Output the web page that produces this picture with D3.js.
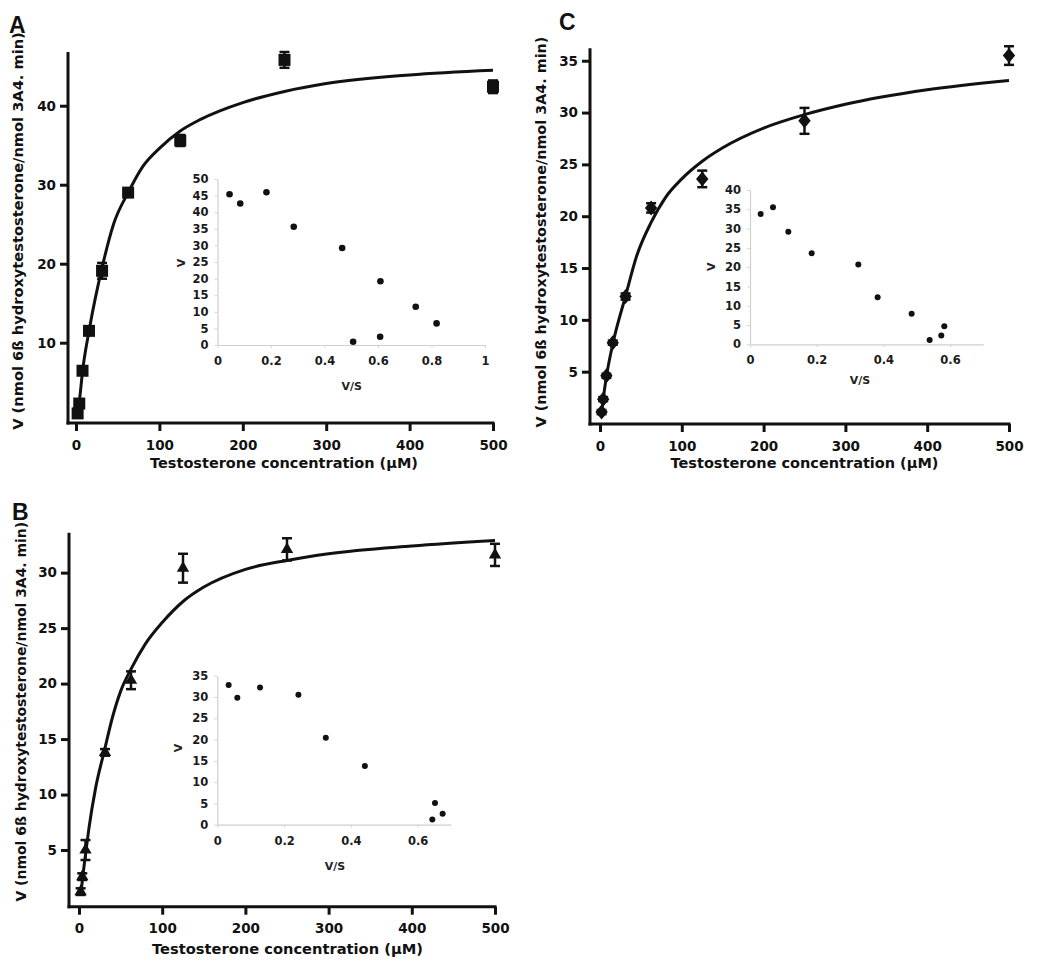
<!DOCTYPE html>
<html><head><meta charset="utf-8">
<script src="https://cdn.jsdelivr.net/npm/d3@7"></script>
<style>body{margin:0;background:#fff} svg{display:block}</style>
</head><body><svg id="c" width="1050" height="963"></svg>
<script>
// ---------- data ----------
const concA = [1.95, 3.9, 7.8, 15.6, 31.25, 62.5, 125, 250, 500];
const vA    = [1.05, 2.3, 6.45, 11.5, 19.1, 29.0, 35.6, 45.8, 42.4];
const errA  = [0.3, 0.4, 0.4, 0.3, 1.0, 0.4, 0.7, 1.0, 0.8];
const fitSA = [1.6, 4, 8, 16, 31.25, 45, 62.5, 80, 100, 125, 150, 200, 250, 300, 400, 500];
const fitVA = [0.9, 2.6, 6.5, 11.7, 19.5, 25.0, 29.0, 32.3, 34.6, 36.8, 38.3, 40.4, 41.8, 42.8, 43.9, 44.5];
const vsA   = [0.045, 0.085, 0.183, 0.285, 0.466, 0.609, 0.741, 0.819, 0.507, 0.608];
const ivA   = [45.4, 42.6, 46.0, 35.6, 29.2, 19.2, 11.5, 6.5, 1.0, 2.5];

const concB = [1.95, 3.9, 7.8, 31.25, 62.5, 125, 250, 500];
const vB    = [1.25, 2.6, 5.0, 13.8, 20.3, 30.4, 32.1, 31.6];
const errB  = [0.3, 0.3, 0.9, 0.3, 0.8, 1.3, 1.0, 1.0];
const fitSB = [2, 5, 8, 12, 20, 30, 40, 50, 62.5, 80, 100, 125, 150, 200, 250, 300, 400, 500];
const fitVB = [0.9, 2.9, 4.7, 7.0, 10.6, 13.8, 16.9, 19.3, 21.3, 23.6, 25.5, 27.4, 28.7, 30.3, 31.1, 31.7, 32.4, 32.9];
const vsB   = [0.034, 0.06, 0.128, 0.243, 0.325, 0.442, 0.652, 0.675, 0.644];
const ivB   = [32.8, 29.8, 32.2, 30.5, 20.4, 13.8, 5.1, 2.6, 1.25];

const concC = [1.95, 3.9, 7.8, 15.6, 31.25, 62.5, 125, 250, 500];
const vC    = [1.1, 2.35, 4.6, 7.8, 12.25, 20.8, 23.6, 29.2, 35.5];
const errC  = [0.2, 0.2, 0.2, 0.2, 0.3, 0.45, 0.8, 1.25, 0.9];
const fitSC = [2, 4, 8, 16, 31.25, 45, 62.5, 80, 100, 125, 150, 200, 250, 300, 400, 500];
const fitVC = [1.1, 2.4, 4.6, 7.8, 12.3, 16.2, 19.4, 21.8, 23.6, 25.3, 26.6, 28.5, 29.8, 30.8, 32.2, 33.1];
const vsC   = [0.032, 0.069, 0.115, 0.185, 0.325, 0.383, 0.485, 0.539, 0.574, 0.583];
const ivC   = [33.8, 35.5, 29.2, 23.6, 20.7, 12.2, 7.9, 1.1, 2.3, 4.7];

const xTicksMain = [0, 100, 200, 300, 400, 500];
const yTicksA = [10, 20, 30, 40];
const yTicksB = [5, 10, 15, 20, 25, 30];
const yTicksC = [5, 10, 15, 20, 25, 30, 35];
const insetXTicksA = [0, 0.2, 0.4, 0.6, 0.8, 1];
const insetXTicksBC = [0, 0.2, 0.4, 0.6];
const insetYTicksA = [0, 5, 10, 15, 20, 25, 30, 35, 40, 45, 50];
const insetYTicksB = [0, 5, 10, 15, 20, 25, 30, 35];
const insetYTicksC = [0, 5, 10, 15, 20, 25, 30, 35, 40];

const yTitle = "V (nmol 6ß hydroxytestosterone/nmol 3A4. min)";
const xTitle = "Testosterone concentration (µM)";

// ---------- drawing ----------
const svg = d3.select("#c");
const FONT = "'DejaVu Sans', sans-serif";
const fmt = d => String(d);

function fitText(sel, target, base) {
  const len = sel.node().getComputedTextLength();
  if (len > 0) sel.style("font-size", (base * target / len).toFixed(2) + "px");
}

function marker(g, shape, cx, cy) {
  if (shape === "square") {
    g.append("rect").attr("x", cx - 6).attr("y", cy - 6).attr("width", 12).attr("height", 12).attr("fill", "#111");
  } else if (shape === "triangle") {
    g.append("path").attr("d", d3.symbol(d3.symbolTriangle, 66)()).attr("transform", `translate(${cx},${cy})`).attr("fill", "#111");
  } else {
    g.append("path").attr("d", "M0,-7.5L6.2,0L0,7.5L-6.2,0Z").attr("transform", `translate(${cx},${cy})`).attr("fill", "#111");
  }
}

function mainPanel(o) {
  const x = d3.scaleLinear().domain([0, 500]).range([o.x0, o.x1]);
  const y = d3.scaleLinear().domain([0, o.yMax]).range([o.yZero, o.yTop]);
  const g = svg.append("g");

  g.append("path")
    .datum(d3.zip(o.fs, o.fv))
    .attr("d", d3.line().x(d => x(d[0])).y(d => y(d[1])).curve(d3.curveMonotoneX))
    .attr("fill", "none").attr("stroke", "#111").attr("stroke-width", 3);

  o.conc.forEach((c, i) => {
    const cx = x(c), v = o.v[i], e = o.err[i];
    const gy1 = y(v + e), gy2 = y(v - e);
    g.append("line").attr("x1", cx).attr("x2", cx).attr("y1", gy1).attr("y2", gy2).attr("stroke", "#111").attr("stroke-width", 2.5);
    [gy1, gy2].forEach(yy => g.append("line").attr("x1", cx - 5).attr("x2", cx + 5).attr("y1", yy).attr("y2", yy).attr("stroke", "#111").attr("stroke-width", 2.5));
    marker(g, o.shape, cx, y(v));
  });

  const ya = g.append("g").attr("transform", `translate(${o.ax},0)`)
    .call(d3.axisLeft(y).tickValues(o.yTicks).tickFormat(fmt).tickSize(8).tickPadding(4));
  const xa = g.append("g").attr("transform", `translate(0,${o.ay})`)
    .call(d3.axisBottom(x).tickValues(xTicksMain).tickFormat(fmt).tickSize(8).tickPadding(9));
  [ya, xa].forEach(a => {
    a.select(".domain").remove();
    a.selectAll(".tick line").attr("stroke", "#111").attr("stroke-width", 3);
    a.selectAll(".tick text").attr("fill", "#111").style("font-family", FONT).style("font-weight", "bold").style("font-size", "13.5px");
  });
  g.append("line").attr("x1", o.ax).attr("x2", o.ax).attr("y1", o.yTop).attr("y2", o.ay + 1.5).attr("stroke", "#111").attr("stroke-width", 3);
  g.append("line").attr("x1", o.ax - 1.5).attr("x2", o.x1 + 1.5).attr("y1", o.ay).attr("y2", o.ay).attr("stroke", "#111").attr("stroke-width", 3);

  const xt = g.append("text").text(xTitle).attr("x", o.xtX).attr("y", o.xtY).attr("text-anchor", "middle").attr("dominant-baseline", "central")
    .style("font-family", FONT).style("font-weight", "bold").style("font-size", "14.5px").attr("fill", "#111");
  fitText(xt, o.xtLen, 14.5);
  const yt = g.append("text").text(yTitle).attr("transform", `translate(${o.ytX},${o.ytY}) rotate(-90)`).attr("text-anchor", "middle").attr("dominant-baseline", "central")
    .style("font-family", FONT).style("font-weight", "bold").style("font-size", "14.5px").attr("fill", "#111");
  fitText(yt, o.ytLen, 14.5);
  g.append("text").text(o.label).attr("x", o.lx).attr("y", o.ly)
    .style("font-family", "'Liberation Sans', Arial, sans-serif").style("font-weight", "bold").style("font-size", "23px").attr("fill", "#111");
}

function inset(o) {
  const x = d3.scaleLinear().domain([0, o.xMax]).range([o.ax, o.xr]);
  const y = d3.scaleLinear().domain([0, o.yMax]).range([o.ay, o.yt]);
  const g = svg.append("g");
  const ya = g.append("g").attr("transform", `translate(${o.ax},0)`)
    .call(d3.axisLeft(y).tickValues(o.yTicks).tickFormat(fmt).tickSize(3).tickPadding(6).tickSizeOuter(0));
  const xa = g.append("g").attr("transform", `translate(0,${o.ay})`)
    .call(d3.axisBottom(x).tickValues(o.xTicks).tickFormat(fmt).tickSize(3).tickPadding(9).tickSizeOuter(0));
  [ya, xa].forEach(a => {
    a.select(".domain").attr("stroke", "#cfcfcf").attr("stroke-width", 1.2);
    a.selectAll(".tick line").attr("stroke", "#d6d6d6").attr("stroke-width", 1);
    a.selectAll(".tick text").attr("fill", "#1a1a1a").style("font-family", FONT).style("font-weight", "bold").style("font-size", "11.5px");
  });
  g.selectAll("circle.d").data(d3.zip(o.vs, o.v)).join("circle").attr("class", "d")
    .attr("cx", d => x(d[0])).attr("cy", d => y(d[1])).attr("r", o.r).attr("fill", "#111");
  g.append("text").text("V/S").attr("x", o.vsX).attr("y", o.vsY).attr("text-anchor", "middle").attr("dominant-baseline", "central")
    .style("font-family", FONT).style("font-size", "11px").style("font-weight", "600").attr("fill", "#222");
  g.append("text").text("V").attr("transform", `translate(${o.vX},${o.vY}) rotate(-90)`).attr("text-anchor", "middle").attr("dominant-baseline", "central")
    .style("font-family", FONT).style("font-size", "11px").style("font-weight", "600").attr("fill", "#222");
}

mainPanel({label: "A", lx: 9, ly: 33, shape: "square", conc: concA, v: vA, err: errA, fs: fitSA, fv: fitVA,
  x0: 76, x1: 493, ax: 68, ay: 423, yZero: 421.7, yTop: 52, yMax: 46.8, yTicks: yTicksA,
  xtX: 284, xtY: 463, xtLen: 268, ytX: 17, ytY: 231, ytLen: 398});
mainPanel({label: "B", lx: 12, ly: 520, shape: "triangle", conc: concB, v: vB, err: errB, fs: fitSB, fv: fitVB,
  x0: 79, x1: 495, ax: 69, ay: 906.7, yZero: 905.5, yTop: 532.7, yMax: 33.6, yTicks: yTicksB,
  xtX: 287.5, xtY: 948.3, xtLen: 271, ytX: 20.7, ytY: 711.7, ytLen: 380});
mainPanel({label: "C", lx: 559, ly: 30, shape: "diamond", conc: concC, v: vC, err: errC, fs: fitSC, fv: fitVC,
  x0: 600, x1: 1009, ax: 590, ay: 424, yZero: 423.5, yTop: 48.3, yMax: 36.2, yTicks: yTicksC,
  xtX: 804.5, xtY: 463.3, xtLen: 268, ytX: 540.7, ytY: 232, ytLen: 391});

inset({vs: vsA, v: ivA, r: 3.3, xMax: 1, yMax: 50, xTicks: insetXTicksA, yTicks: insetYTicksA,
  ax: 217.5, xr: 485, ay: 345, yt: 179, vX: 181.7, vY: 263, vsX: 351.7, vsY: 386.7});
inset({vs: vsB, v: ivB, r: 3, xMax: 0.7, yMax: 35, xTicks: insetXTicksBC, yTicks: insetYTicksB,
  ax: 217.3, xr: 451, ay: 824.7, yt: 675.7, vX: 178, vY: 748, vsX: 335, vsY: 866});
inset({vs: vsC, v: ivC, r: 3, xMax: 0.7, yMax: 40, xTicks: insetXTicksBC, yTicks: insetYTicksC,
  ax: 750, xr: 983.3, ay: 344.3, yt: 190, vX: 711.7, vY: 266.7, vsX: 860, vsY: 380});
</script>
</body></html>
